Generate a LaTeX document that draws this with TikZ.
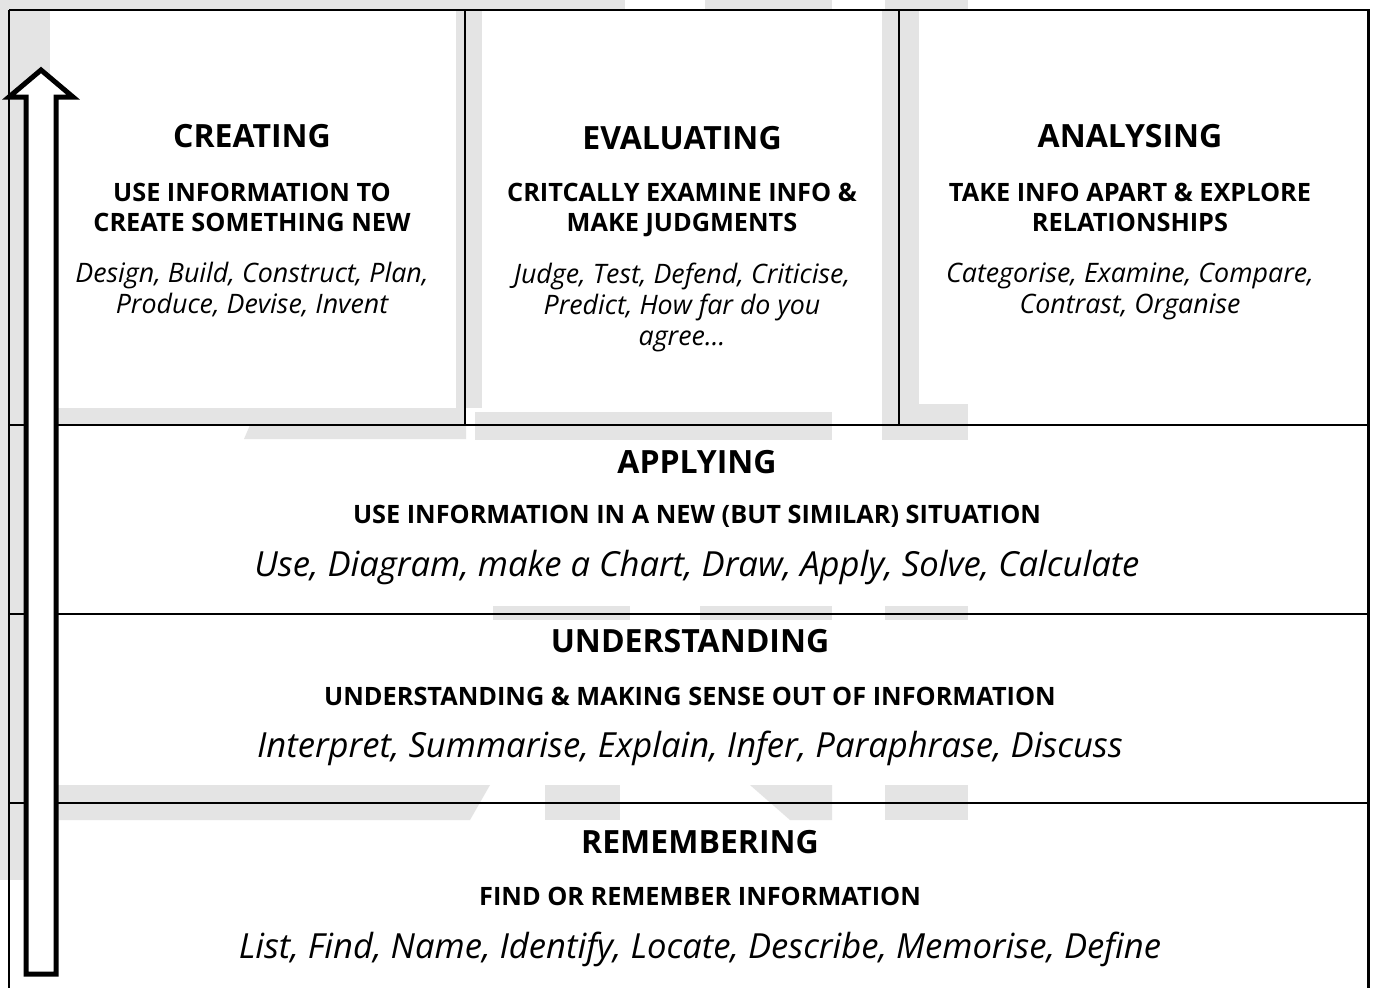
\documentclass[tikz,border=0pt]{standalone}
\usepackage{fontspec}
\setmainfont{Open Sans}
\definecolor{wmgray}{RGB}{228,228,228}
\tikzset{
  x=1pt, y=-1pt,
  grid/.style={line width=2pt, black},
  wm/.style={fill=wmgray, draw=none},
  title/.style={font=\fontsize{32}{38}\selectfont\bfseries, inner sep=0pt},
  subtitle/.style={font=\fontsize{25.3}{30}\selectfont\bfseries, align=center, inner sep=0pt},
  verbs/.style={font=\fontsize{26.8}{31}\selectfont\itshape, align=center, inner sep=0pt},
  bigverbs/.style={font=\fontsize{34.6}{40}\selectfont\itshape, inner sep=0pt},
  uparrow/.style={line width=5pt, draw=black, fill=white, line join=miter},
}
\begin{document}
\begin{tikzpicture}
\useasboundingbox (0,0) rectangle (1375,988);
\fill[white] (0,0) rectangle (1375,988);

% faint background logo showing around the cells
\fill[wm] (0,0) rectangle (625,10);
\fill[wm] (705,0) rectangle (832,10);
\fill[wm] (885,0) rectangle (968,10);
\fill[wm] (0,0) rectangle (50,880);
\fill[wm] (456,10) rectangle (482,408);
\fill[wm] (882,10) rectangle (919,404);
\fill[wm] (882,404) rectangle (968,440);
\fill[wm] (55,408) rectangle (466,425);
\fill[wm] (250,425) -- (466,425) -- (466,439) -- (244,439) -- cycle;
\fill[wm] (475,412) rectangle (832,440);
\fill[wm] (493,606) rectangle (630,620);
\fill[wm] (700,606) rectangle (832,620);
\fill[wm] (885,606) rectangle (968,620);
\fill[wm] (55,785) -- (490,785) -- (470,820) -- (55,820) -- cycle;
\fill[wm] (545,785) rectangle (620,820);
\fill[wm] (750,785) -- (832,785) -- (832,820) -- (790,820) -- cycle;
\fill[wm] (885,785) rectangle (968,820);

% frame and cell rules
\draw[grid] (9,10) -- (1368,10);
\draw[grid] (9,10) -- (9,988);
\draw[line width=3pt] (1368,9) -- (1368,988);
\draw[grid] (465,10) -- (465,425);
\draw[grid] (899,10) -- (899,425);
\draw[grid] (9,425) -- (1368,425);
\draw[grid] (9,614) -- (1368,614);
\draw[grid] (9,803) -- (1368,803);

% hollow arrow pointing up the levels
\draw[uparrow] (26,974) -- (26,97) -- (9,97) -- (41,70) -- (73,97) -- (56,97) -- (56,974) -- cycle;

% top row
\node[title] (creT) at (252,136) {CREATING};
\node[subtitle] (creS) at (252,207) {USE INFORMATION TO\\CREATE SOMETHING NEW};
\node[verbs] (creV) at (252,290) {Design, Build, Construct, Plan,\\Produce, Devise, Invent};

\node[title] (evaT) at (682,138) {EVALUATING};
\node[subtitle] (evaS) at (682,210) {CRITCALLY EXAMINE INFO \&\\MAKE JUDGMENTS};
\node[verbs] (evaV) at (682,307) {Judge, Test, Defend, Criticise,\\Predict, How far do you\\agree…};

\node[title] (anaT) at (1130,136) {ANALYSING};
\node[subtitle] (anaS) at (1130,207) {TAKE INFO APART \& EXPLORE\\RELATIONSHIPS};
\node[verbs] (anaV) at (1130,291) {Categorise, Examine, Compare,\\Contrast, Organise};

% lower rows
\node[title] (appT) at (697,462) {APPLYING};
\node[subtitle] (appS) at (697,516) {USE INFORMATION IN A NEW (BUT SIMILAR) SITUATION};
\node[bigverbs] (appV) at (697,568) {Use, Diagram, make a Chart, Draw, Apply, Solve, Calculate};

\node[title] (undT) at (690,641) {UNDERSTANDING};
\node[subtitle] (undS) at (690,696) {UNDERSTANDING \& MAKING SENSE OUT OF INFORMATION};
\node[bigverbs] (undV) at (690,748) {Interpret, Summarise, Explain, Infer, Paraphrase, Discuss};

\node[title] (remT) at (700,842) {REMEMBERING};
\node[subtitle] (remS) at (700,896) {FIND OR REMEMBER INFORMATION};
\node[bigverbs] (remV) at (700,949) {List, Find, Name, Identify, Locate, Describe, Memorise, Define};
\end{tikzpicture}
\end{document}
